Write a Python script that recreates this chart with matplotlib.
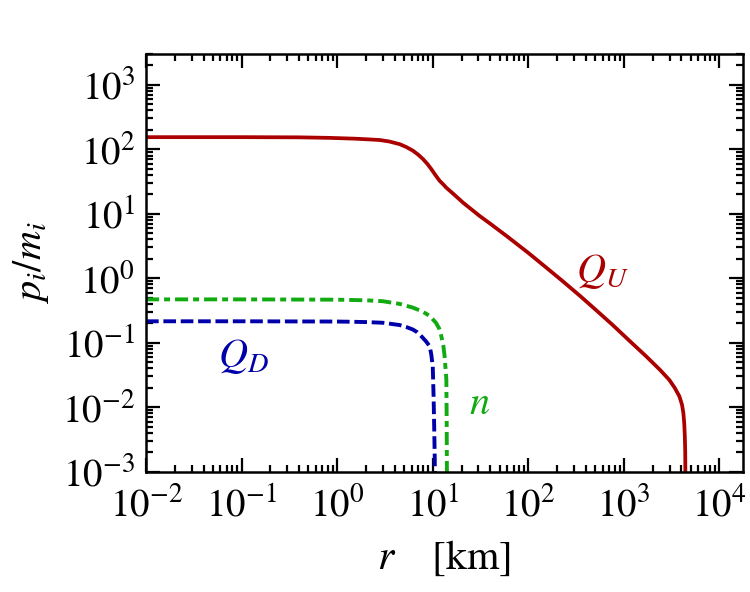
import matplotlib
matplotlib.use("Agg")
import matplotlib.pyplot as plt
from matplotlib.ticker import LogLocator, NullFormatter

# ------------------------------------------------------------------
# data (r in km)
# ------------------------------------------------------------------
r_up = [0.01, 0.1, 0.4, 0.85, 1.5, 2.0, 2.8, 3.5, 4.5, 5.3, 6.2, 7.0, 7.9,
        8.8, 9.66, 10.7, 11.8, 12.8, 13.8, 16.5, 20.7, 30.9, 40, 60, 100,
        150, 230, 350, 500, 764, 1100, 1706, 2400, 2985, 3400, 3800, 4050,
        4190, 4280, 4340, 4380, 4395, 4400]
q_up = [154, 154, 153, 150, 146, 143, 139, 132, 120, 108, 95, 83, 70.5,
        59, 49.2, 39.5, 32.4, 28.8, 25.5, 20.2, 14.9, 9.25, 7.0, 4.45, 2.47,
        1.51, 0.895, 0.527, 0.33, 0.188, 0.113, 0.0617, 0.0376, 0.0265, 0.020,
        0.0148, 0.011, 0.0081, 0.0055, 0.0035, 0.002, 0.001, 0.0005]

r_down = [0.01, 0.1, 1.0, 1.5, 2.0, 3.0, 4.5, 5.3, 6.2, 6.9, 7.6, 8.5, 9.3,
          9.66, 10.0, 10.2, 10.35, 10.5, 10.5]
q_down = [0.215, 0.215, 0.213, 0.211, 0.209, 0.204, 0.188, 0.175, 0.16, 0.145,
          0.126, 0.105, 0.088, 0.065, 0.043, 0.0148, 0.005, 0.0015, 0.0005]

r_n = [0.01, 0.1, 1.0, 2.0, 3.0, 4.5, 6.2, 7.8, 9.3, 10.8, 11.7, 12.3, 12.9,
       13.3, 13.6, 13.87, 13.97, 14.06, 14.06]
q_n = [0.47, 0.47, 0.465, 0.455, 0.44, 0.40, 0.35, 0.305, 0.26, 0.204, 0.165,
       0.126, 0.09, 0.062, 0.04, 0.027, 0.008, 0.001, 0.0005]

RED = '#aa0000'
BLUE = '#0000aa'
GREEN = '#11aa11'

plt.rcParams['font.family'] = 'STIXGeneral'
plt.rcParams['mathtext.fontset'] = 'stix'
plt.rcParams['lines.scale_dashes'] = False

fig = plt.figure(figsize=(7.5, 5.92), dpi=100)
ax = fig.add_axes([0.1947, 0.2032, 0.7956, 0.7056])

ax.plot(r_up, q_up, color=RED, lw=2.7, solid_capstyle='butt', solid_joinstyle='round')
ax.plot(r_down, q_down, color=BLUE, lw=2.8, dashes=(9.1, 3.4))
ax.plot(r_n, q_n, color=GREEN, lw=2.8, dashes=(9.4, 3.6, 4.3, 3.6))

ax.set_xscale('log')
ax.set_yscale('log')
ax.set_xlim(1e-2, 1.75e4)
ax.set_ylim(1e-3, 3e3)

# labels on the curves
ax.text(596, 1.28, r'$Q_U$', color=RED, fontsize=29, ha='center', va='center')
ax.text(0.105, 0.061, r'$Q_D$', color=BLUE, fontsize=29, ha='center', va='center')
ax.text(31, 0.0109, r'$n$', color=GREEN, fontsize=29, ha='center', va='center')

ax.set_xlabel(r'$r\quad\;[\mathrm{km}]$', fontsize=30, labelpad=10)
ax.set_ylabel(r'$p_i/m_i$', fontsize=29, labelpad=8)

# ticks: inside, all four sides
ax.xaxis.set_major_locator(LogLocator(base=10, numticks=20))
ax.yaxis.set_major_locator(LogLocator(base=10, numticks=20))
ax.xaxis.set_minor_locator(LogLocator(base=10, subs=range(2, 10), numticks=20))
ax.yaxis.set_minor_locator(LogLocator(base=10, subs=range(2, 10), numticks=20))
ax.xaxis.set_minor_formatter(NullFormatter())
ax.yaxis.set_minor_formatter(NullFormatter())
ax.tick_params(which='both', direction='in', top=True, right=True, width=1.6)
ax.tick_params(which='major', length=10, labelsize=28, pad=8)
ax.tick_params(axis='x', which='major', pad=11)
ax.tick_params(which='minor', length=5)
for s in ax.spines.values():
    s.set_linewidth(1.8)

plt.savefig('out.png', dpi=100)
